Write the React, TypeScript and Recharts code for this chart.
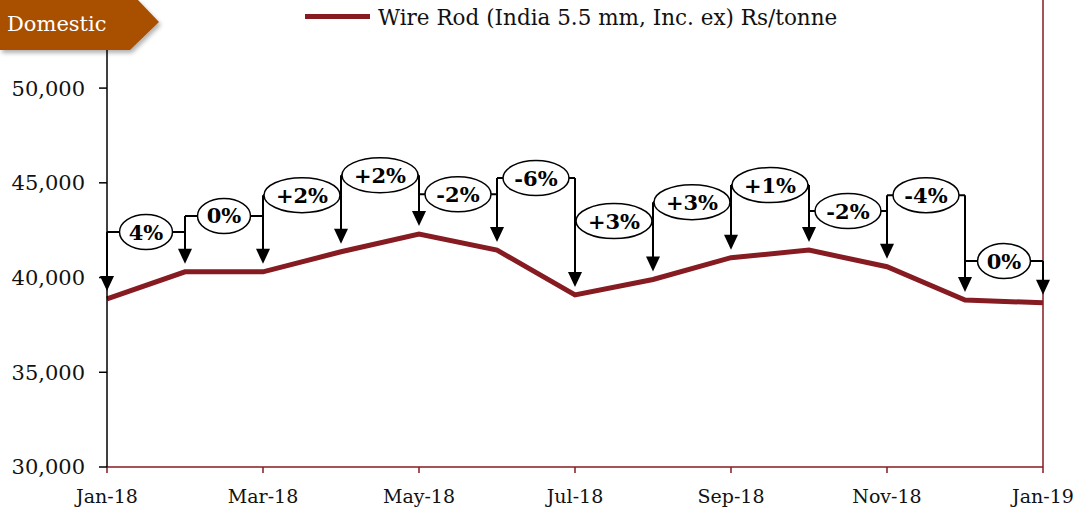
import React from "react";
import { LineChart, Line, XAxis, YAxis, ReferenceLine } from "recharts";

const months = [
  "Jan-18", "Feb-18", "Mar-18", "Apr-18", "May-18", "Jun-18", "Jul-18",
  "Aug-18", "Sep-18", "Oct-18", "Nov-18", "Dec-18", "Jan-19",
];
const prices = [38870, 40300, 40300, 41360, 42300, 41450, 39080, 39900, 41050, 41450, 40570, 38810, 38670];
// month-on-month change labels, one per interval
const changeLabels = ["4%", "0%", "+2%", "+2%", "-2%", "-6%", "+3%", "+3%", "+1%", "-2%", "-4%", "0%"];
// level (Rs/tonne) at which each change bubble sits
const calloutLevels = [42400, 43250, 44350, 45400, 44400, 45250, 42980, 43980, 44880, 43510, 44350, 40870];
const yTicks = [30000, 35000, 40000, 45000, 50000];
const xTicks = [0, 2, 4, 6, 8, 10, 12];

const RED = "#861B22";
const FONT = "'DejaVu Serif', Georgia, serif";

const data = prices.map((price, m) => ({ m, price }));

function ArrowShape(props: any) {
  const { x1, y1, y2 } = props;
  const top = Math.min(y1, y2);
  const tip = Math.max(y1, y2) - 8;
  const head = 15;
  return (
    <g>
      <line x1={x1} y1={top} x2={x1} y2={tip - head + 1} stroke="#000" strokeWidth={2} />
      <polygon points={`${x1 - 7},${tip - head} ${x1 + 7},${tip - head} ${x1},${tip}`} fill="#000" />
    </g>
  );
}

function bubbleRx(label: string) {
  if (label.startsWith("+")) return 38;
  if (label.startsWith("-")) return 33;
  return 26.5;
}

const makeCallout = (label: string) => (props: any) => {
  const { x1, x2, y1 } = props;
  const cx = (x1 + x2) / 2;
  return (
    <g>
      <line x1={x1} x2={x2} y1={y1} y2={y1} stroke="#000" strokeWidth={2} />
      <ellipse cx={cx} cy={y1} rx={bubbleRx(label)} ry={17.5} fill="#fff" stroke="#000" strokeWidth={1.5} />
      <text
        x={cx}
        y={y1}
        textAnchor="middle"
        dominantBaseline="central"
        fontFamily={FONT}
        fontWeight="bold"
        fontSize={21}
        fill="#000"
      >
        {label}
      </text>
    </g>
  );
};

export default function App() {
  return (
    <div style={{ position: "absolute", left: 0, top: 0, width: 1075, height: 512, background: "#fff" }}>
      <LineChart width={1075} height={512} data={data} margin={{ top: 0, right: 32, bottom: 0, left: 0 }}>
        <XAxis
          dataKey="m"
          type="number"
          domain={[0, 12]}
          ticks={xTicks}
          interval={0}
          tickFormatter={(v: number) => months[v]}
          height={45}
          stroke={RED}
          strokeWidth={1.5}
          tickSize={6}
          tickMargin={17}
          tick={{ fill: "#111", fontSize: 19, fontFamily: FONT }}
        />
        <YAxis
          domain={[30000, 54650]}
          ticks={yTicks}
          allowDataOverflow
          width={107}
          stroke="#000"
          strokeWidth={1.5}
          tickSize={8}
          tickMargin={14}
          tickFormatter={(v: number) => v.toLocaleString("en-US")}
          tick={{ fill: "#111", fontSize: 21, fontFamily: FONT }}
        />
        <ReferenceLine x={12} stroke={RED} strokeWidth={1.5} />
        {prices.map((p, i) => {
          const level = Math.max(
            i > 0 ? calloutLevels[i - 1] : -Infinity,
            i < calloutLevels.length ? calloutLevels[i] : -Infinity
          );
          return (
            <ReferenceLine
              key={`a${i}`}
              segment={[{ x: i, y: level }, { x: i, y: p }]}
              shape={ArrowShape}
            />
          );
        })}
        {changeLabels.map((lab, i) => (
          <ReferenceLine
            key={`c${i}`}
            segment={[{ x: i, y: calloutLevels[i] }, { x: i + 1, y: calloutLevels[i] }]}
            shape={makeCallout(lab)}
          />
        ))}
        <Line
          dataKey="price"
          type="linear"
          stroke={RED}
          strokeWidth={5}
          dot={false}
          isAnimationActive={false}
        />
      </LineChart>
      <svg width={1075} height={60} style={{ position: "absolute", left: 0, top: 0, pointerEvents: "none" }}>
        <defs>
          <filter id="sh" x="-10%" y="-10%" width="130%" height="140%">
            <feDropShadow dx="2" dy="3" stdDeviation="2" floodColor="#000" floodOpacity="0.3" />
          </filter>
        </defs>
        <polygon points="0,0 138,0 159,22 130,50 0,50" fill="#A84F02" filter="url(#sh)" />
        <text x={7} y={31} fill="#fff" fontFamily={FONT} fontSize={21}>Domestic</text>
        <line x1={305} x2={370} y1={16.5} y2={16.5} stroke={RED} strokeWidth={5} />
        <text x={378} y={25} fill="#111" fontFamily={FONT} fontSize={21.5}>
          Wire Rod (India 5.5 mm, Inc. ex) Rs/tonne
        </text>
      </svg>
    </div>
  );
}
